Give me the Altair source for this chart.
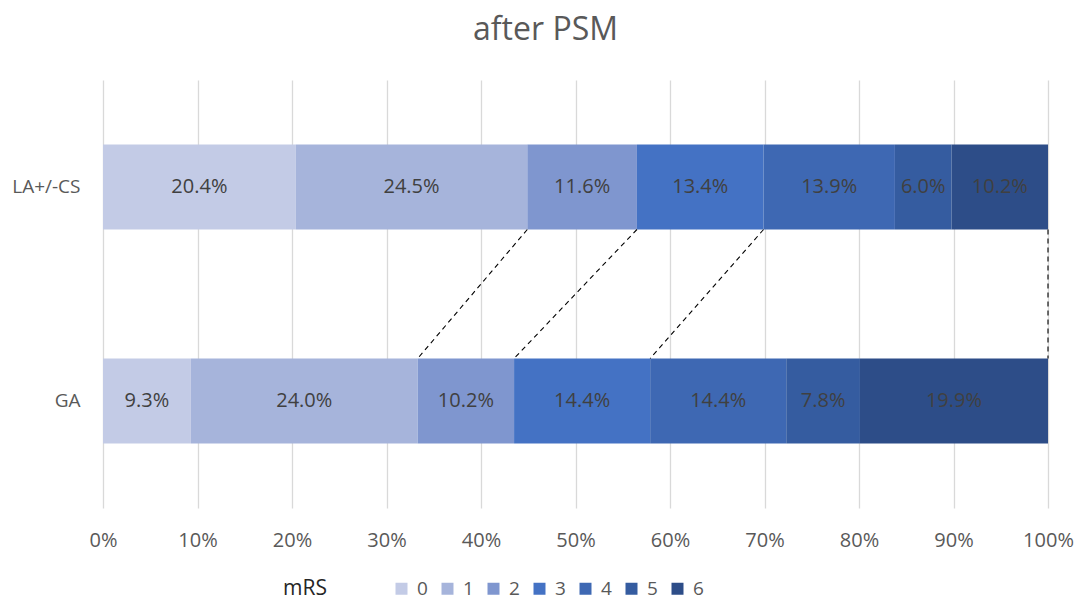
import altair as alt
import pandas as pd
import numpy as np

title_text = "after PSM"
groups = ["LA+/-CS", "GA"]
mrs_levels = ["0", "1", "2", "3", "4", "5", "6"]
la_pct = [20.4, 24.5, 11.6, 13.4, 13.9, 6.0, 10.2]
ga_pct = [9.3, 24.0, 10.2, 14.4, 14.4, 7.8, 19.9]
colors = ["#c3cbe6", "#a6b4db", "#7f96cf", "#4472c4", "#3e68b3", "#355ca0", "#2d4d88"]
# connectors drawn after these mRS levels (cumulative boundaries)
connect_after = [1, 2, 3, 6]
x_ticks = [0, 10, 20, 30, 40, 50, 60, 70, 80, 90, 100]

rows = []
for g, vals in zip(groups, [la_pct, ga_pct]):
    for m, v in zip(mrs_levels, vals):
        rows.append({"group": g, "mRS": m, "order": int(m), "pct": v})
df = pd.DataFrame(rows)

cum_la = np.cumsum(la_pct)
cum_ga = np.cumsum(ga_pct)
conn = pd.DataFrame({
    "x": [float(cum_la[k]) for k in connect_after],
    "x2": [float(cum_ga[k]) for k in connect_after],
    "from": [groups[0]] * len(connect_after),
    "to": [groups[1]] * len(connect_after),
})

FONT = "Open Sans"
yscale = alt.Scale(domain=groups, paddingInner=0.603, paddingOuter=0.3015)
xscale = alt.Scale(domain=[0, 100], nice=False)

y_axis = alt.Axis(title=None, domain=False, ticks=False, labelFontSize=19,
                  labelColor="#595959", labelPadding=23, labelFont=FONT, grid=False)
x_axis = alt.Axis(title=None, values=x_ticks, labelExpr="datum.value + '%'",
                  domain=False, ticks=False, grid=True, gridColor="#d9d9d9",
                  gridWidth=1.3, labelFontSize=20, labelColor="#595959",
                  labelPadding=22, labelFont=FONT, labelFlush=False)

bars = alt.Chart(df).mark_bar().encode(
    y=alt.Y("group:N", sort=groups, scale=yscale, axis=y_axis),
    x=alt.X("pct:Q", stack="zero", scale=xscale, axis=x_axis),
    color=alt.Color("mRS:N", scale=alt.Scale(domain=mrs_levels, range=colors),
                    legend=alt.Legend(title="mRS")),
    order=alt.Order("order:Q"),
)

labels = alt.Chart(df).transform_stack(
    stack="pct", groupby=["group"], as_=["x0", "x1"],
    sort=[alt.SortField("order", order="ascending")]
).transform_calculate(
    mid="(datum.x0 + datum.x1) / 2",
    label="format(datum.pct, '.1f') + '%'"
).mark_text(fontSize=20, color="#404040", font=FONT).encode(
    y=alt.Y("group:N", sort=groups, scale=yscale, axis=y_axis),
    x=alt.X("mid:Q", scale=xscale, axis=x_axis),
    text="label:N",
)

rules = alt.Chart(conn).mark_rule(
    yOffset=42.5, y2Offset=-42.5, strokeDash=[5, 4], color="#000000", strokeWidth=1.1
).encode(
    y=alt.Y("from:N", sort=groups, scale=yscale, axis=y_axis),
    y2="to:N",
    x=alt.X("x:Q", scale=xscale, axis=x_axis),
    x2="x2:Q",
)

chart = alt.layer(bars, rules, labels).properties(
    width=945, height=428,
    autosize=alt.AutoSizeParams(type="none"),
    padding={"left": 95, "top": 72, "right": 28, "bottom": 94},
    title=alt.TitleParams(title_text, fontSize=32, color="#595959", font=FONT,
                          fontWeight="normal", anchor="middle", dx=-30, offset=33),
).configure_view(stroke=None).configure_legend(
    orient="none", legendX=180, legendY=499, direction="horizontal",
    titleOrient="left", symbolType="square", symbolSize=144, symbolStrokeWidth=0,
    labelFontSize=19, labelColor="#595959", labelFont=FONT, labelOffset=6,
    titleFontSize=21, titleFontWeight="normal", titleColor="#262626", titleFont=FONT,
    titlePadding=65, columnPadding=10, titleBaseline="middle",
)

chart.save("out.html", embed_options={"renderer": "svg", "actions": False})
